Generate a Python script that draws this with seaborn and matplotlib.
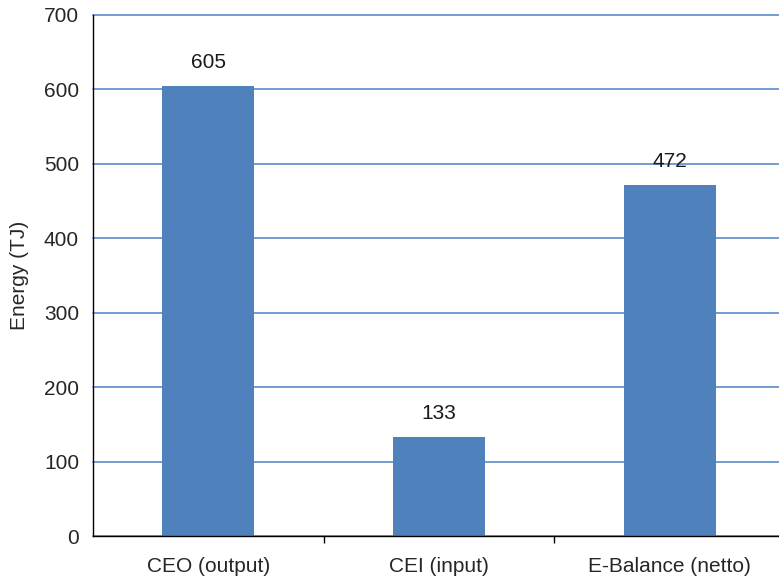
import pandas as pd
import matplotlib.pyplot as plt
import seaborn as sns

categories = ["CEO (output)", "CEI (input)", "E-Balance (netto)"]
energy_tj = [605, 133, 472]
y_ticks = [0, 100, 200, 300, 400, 500, 600, 700]

bar_color = "#4F81BD"
grid_color = "#5B8BC7"

sns.set_style("white")
plt.rcParams["font.family"] = ["Liberation Sans", "DejaVu Sans"]

df = pd.DataFrame({"category": categories, "energy": energy_tj})

fig = plt.figure(figsize=(7.79, 5.78), dpi=100)
ax = fig.add_axes([93 / 779, 1 - 536 / 578, 1 - 93 / 779, (536 - 15) / 578])

sns.barplot(data=df, x="category", y="energy", color=bar_color, saturation=1,
            width=0.4, linewidth=0, ax=ax, zorder=2)

# value labels above bars
for i, v in enumerate(energy_tj):
    ax.annotate(str(v), (i, v), xytext=(0, 10), textcoords="offset points",
                ha="center", va="bottom", fontsize=15, color="#1a1a1a")

ax.set_ylim(0, 700)
ax.set_yticks(y_ticks)
ax.set_xlim(-0.5, 2.474)
ax.yaxis.grid(True, color=grid_color, linewidth=1.2)
for gl in ax.get_ygridlines():
    gl.set_clip_on(False)
ax.set_axisbelow(True)

ax.set_xlabel("")
ax.set_ylabel("Energy (TJ)", fontsize=15, labelpad=11)

# ticks between the categories
ax.set_xticks([0.5, 1.5], minor=True)
ax.tick_params(axis="x", which="minor", length=5, width=1, color="black",
               direction="out", bottom=True)
ax.tick_params(axis="x", which="major", length=0, pad=15, labelsize=15)
ax.tick_params(axis="y", length=0, pad=10, labelsize=15)

for side in ["top", "right"]:
    ax.spines[side].set_visible(False)
for side in ["left", "bottom"]:
    ax.spines[side].set_color("black")
    ax.spines[side].set_linewidth(1.0)

fig.savefig("out.png", dpi=100)
